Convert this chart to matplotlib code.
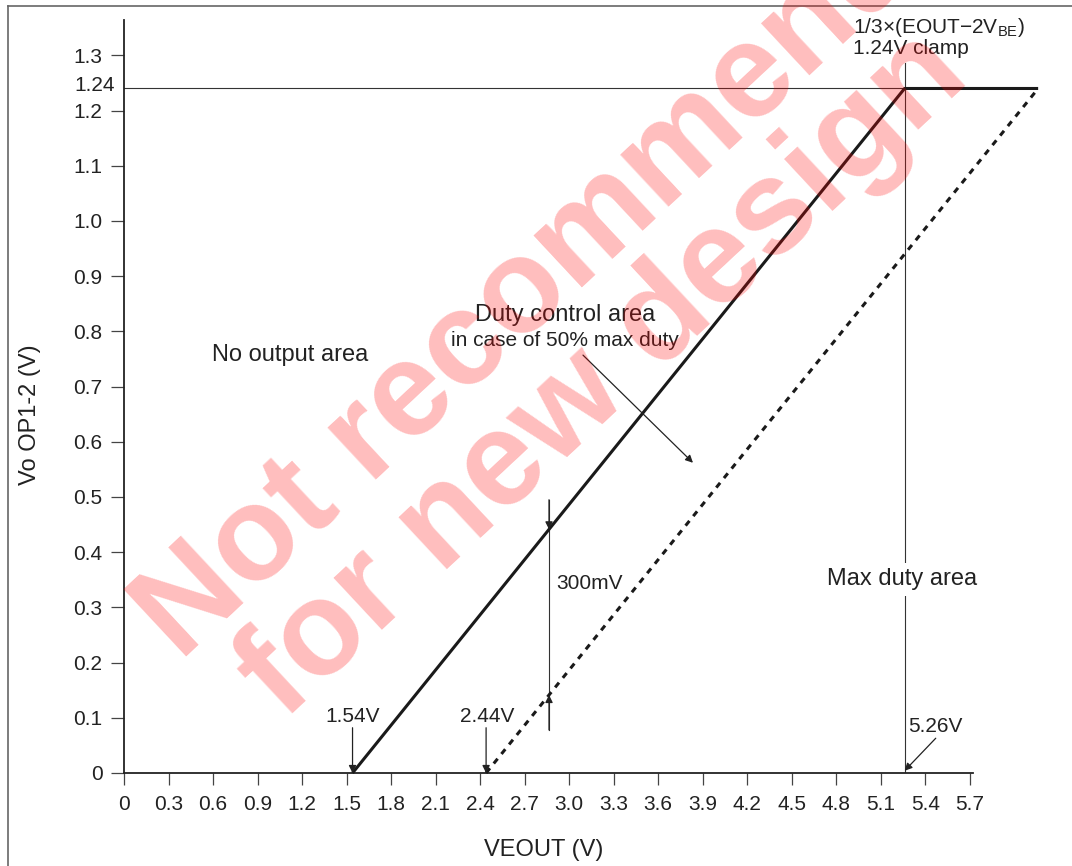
import matplotlib

matplotlib.use("Agg")
import matplotlib.pyplot as plt
from matplotlib.lines import Line2D

plt.rcParams["font.family"] = ["Liberation Sans", "DejaVu Sans"]
plt.rcParams["mathtext.fontset"] = "custom"
plt.rcParams["mathtext.rm"] = "Liberation Sans"
plt.rcParams["mathtext.it"] = "Liberation Sans:italic"

# transfer curve data (V)
v_start = 1.54        # output starts (no-output / duty-control boundary)
v_start_50 = 2.44     # 50% max duty case
v_clamp_x = 5.26      # clamp reached
v_clamp = 1.24        # clamp level
v_end = 6.16          # right end of drawn curves
solid_x = [v_start, v_clamp_x, v_end]
solid_y = [0, v_clamp, v_clamp]
dashed_x = [v_start_50, v_end]
dashed_y = [0, v_clamp]

x_ticks = [0, 0.3, 0.6, 0.9, 1.2, 1.5, 1.8, 2.1, 2.4, 2.7, 3.0, 3.3, 3.6, 3.9, 4.2, 4.5, 4.8, 5.1, 5.4, 5.7]
x_labels = ["0", "0.3", "0.6", "0.9", "1.2", "1.5", "1.8", "2.1", "2.4", "2.7", "3.0",
            "3.3", "3.6", "3.9", "4.2", "4.5", "4.8", "5.1", "5.4", "5.7"]
y_ticks = [0, 0.1, 0.2, 0.3, 0.4, 0.5, 0.6, 0.7, 0.8, 0.9, 1.0, 1.1, 1.2, 1.3]
y_labels = ["0", "0.1", "0.2", "0.3", "0.4", "0.5", "0.6", "0.7", "0.8", "0.9", "1.0", "1.1", "1.2", "1.3"]

INK = "#222222"

fig = plt.figure(figsize=(10.72, 8.66), dpi=100)
fig.patch.set_facecolor("white")
ax = fig.add_axes([124 / 1072, 93 / 866, 927.5 / 1072, 761.8 / 866])
ax.set_xlim(0, 6.25)
ax.set_ylim(0, 1.38)
ax.patch.set_alpha(0)

for s in ["top", "right"]:
    ax.spines[s].set_visible(False)
ax.spines["bottom"].set_bounds(0, 5.72)
ax.spines["left"].set_bounds(0, 1.364)
for s in ["bottom", "left"]:
    ax.spines[s].set_color(INK)
    ax.spines[s].set_linewidth(1.3)

ax.set_xticks(x_ticks)
ax.set_xticklabels(x_labels)
ax.set_yticks(y_ticks)
ax.set_yticklabels(y_labels)
ax.tick_params(axis="x", direction="out", length=8.8, width=0.9, color="#444", pad=7,
               labelsize=15, labelcolor=INK)
ax.tick_params(axis="y", direction="out", length=9.4, width=0.9, color="#444", pad=6,
               labelsize=15, labelcolor=INK)
ax.text(-0.06, v_clamp + 0.006, "1.24", ha="right", va="center", fontsize=15, color=INK)

# guide lines
ax.plot([0, v_clamp_x], [v_clamp, v_clamp], color="#333", lw=0.8, zorder=2)
ax.plot([v_clamp_x, v_clamp_x], [0, 1.286], color="#333", lw=0.8, zorder=2)

# curves
ax.plot(solid_x, solid_y, color="#1a1a1a", lw=2.2, solid_capstyle="butt", clip_on=False, zorder=3)
ax.plot(dashed_x, dashed_y, color="#1a1a1a", lw=2.2, linestyle=(0, (2.0, 2.0)), clip_on=False, zorder=3)


def arrow(x1, y1, x2, y2, lw=0.9, ms=11):
    ax.annotate("", xy=(x2, y2), xytext=(x1, y1),
                arrowprops=dict(arrowstyle="-|>", color="#222", lw=lw, mutation_scale=ms,
                                shrinkA=0, shrinkB=0), zorder=4)


# 300 mV span
x_span = 2.864
ax.plot([x_span, x_span], [0.078, 0.495], color="#333", lw=0.8, zorder=2)
arrow(x_span, 0.495, x_span, (x_span - v_start) / 3)
arrow(x_span, 0.078, x_span, (x_span - v_start_50) / 3)
ax.text(2.91, 0.344, "300mV", ha="left", va="center", fontsize=15, color=INK)

# voltage markers
ax.text(v_start, 0.103, "1.54V", ha="center", va="center", fontsize=15, color=INK)
arrow(v_start, 0.082, v_start, 0.0)
ax.text(v_start_50 + 0.006, 0.103, "2.44V", ha="center", va="center", fontsize=15, color=INK)
arrow(v_start_50, 0.082, v_start_50, 0.0)
ax.text(5.47, 0.085, "5.26V", ha="center", va="center", fontsize=15, color=INK)
arrow(5.47, 0.063, v_clamp_x, 0.004)

# area labels
ax.text(0.593, 0.757, "No output area", ha="left", va="center", fontsize=17, color=INK)
ax.text(2.972, 0.830, "Duty control area", ha="center", va="center", fontsize=17, color=INK)
ax.text(2.972, 0.784, "in case of 50% max duty", ha="center", va="center", fontsize=15, color=INK)
arrow(3.093, 0.757, 3.834, 0.562)
ax.text(4.737, 0.351, "Max duty area", ha="left", va="center", fontsize=17, color=INK, zorder=5,
        bbox=dict(facecolor="white", edgecolor="none", pad=4))
ax.text(4.912, 1.350, "1/3×(EOUT−2V$_{\\mathrm{BE}}$)", ha="left", va="center", fontsize=15,
        color=INK, clip_on=False)
ax.text(4.912, 1.313, "1.24V clamp", ha="left", va="center", fontsize=15, color=INK, clip_on=False)

# axis titles
fig.text(544 / 1072, 1 - 850 / 866, "VEOUT (V)", ha="center", va="center", fontsize=17, color=INK)
fig.text(30 / 1072, 1 - 415 / 866, "Vo OP1-2 (V)", ha="center", va="center", rotation=90,
         fontsize=17, color=INK)

# page frame
fig.add_artist(Line2D([8 / 1072, 8 / 1072], [0, 1 - 6 / 866], color="#666", lw=1.2))
fig.add_artist(Line2D([8 / 1072, 1], [1 - 6 / 866, 1 - 6 / 866], color="#666", lw=1.2))

# watermark
wm = dict(rotation=43, rotation_mode="anchor", ha="left", va="baseline", fontsize=96,
          family="Liberation Sans", fontweight="bold", color="red", alpha=0.26, zorder=10)
fig.text(180 / 1072, 1 - 662 / 866, "Not recommended", **wm)
fig.text(284 / 1072, 1 - 722 / 866, "for new design", **wm)

fig.savefig("out.png", dpi=100, facecolor="white")
plt.close()
